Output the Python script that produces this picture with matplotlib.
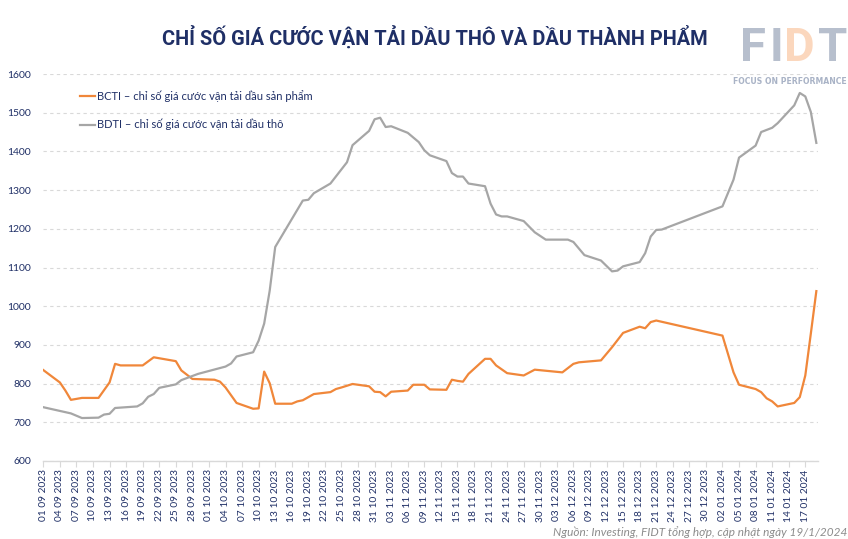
import matplotlib
matplotlib.use("Agg")
import matplotlib.pyplot as plt
import pandas as pd
import numpy as np

# ---- data ----
start_date = "2023-09-01"
end_date = "2024-01-19"

bcti_dates = ["2023-09-01", "2023-09-04", "2023-09-05", "2023-09-06", "2023-09-08", "2023-09-11",
              "2023-09-13", "2023-09-14", "2023-09-15", "2023-09-19", "2023-09-21", "2023-09-25",
              "2023-09-26", "2023-09-28", "2023-10-02", "2023-10-03", "2023-10-04", "2023-10-05",
              "2023-10-06", "2023-10-09", "2023-10-10", "2023-10-11", "2023-10-12", "2023-10-13",
              "2023-10-16", "2023-10-17", "2023-10-18", "2023-10-20", "2023-10-23", "2023-10-24",
              "2023-10-25", "2023-10-27", "2023-10-30", "2023-10-31", "2023-11-01", "2023-11-02",
              "2023-11-03", "2023-11-06", "2023-11-07", "2023-11-09", "2023-11-10", "2023-11-13",
              "2023-11-14", "2023-11-15", "2023-11-16", "2023-11-17", "2023-11-20", "2023-11-21",
              "2023-11-22", "2023-11-24", "2023-11-27", "2023-11-29", "2023-12-04", "2023-12-06",
              "2023-12-07", "2023-12-11", "2023-12-13", "2023-12-15", "2023-12-18", "2023-12-19",
              "2023-12-20", "2023-12-21", "2024-01-02", "2024-01-04", "2024-01-05", "2024-01-08",
              "2024-01-09", "2024-01-10", "2024-01-11", "2024-01-12", "2024-01-15", "2024-01-16",
              "2024-01-17", "2024-01-18", "2024-01-19"]
bcti_values = [835, 803, 782, 758, 763, 763,
               803, 851, 847, 847, 868, 858,
               834, 812, 810, 805, 790, 770,
               750, 735, 736, 831, 801, 748,
               748, 754, 757, 773, 778, 786,
               790, 799, 793, 779, 778, 767,
               779, 782, 797, 797, 785, 784,
               810, 807, 805, 825, 864, 864,
               847, 827, 821, 836, 829, 851,
               855, 860, 894, 931, 947, 943,
               959, 963, 924, 829, 797, 786,
               778, 762, 754, 741, 750, 765,
               821, 929, 1039]

bdti_dates = ["2023-09-01", "2023-09-06", "2023-09-08", "2023-09-11", "2023-09-12", "2023-09-13",
              "2023-09-14", "2023-09-18", "2023-09-19", "2023-09-20", "2023-09-21", "2023-09-22",
              "2023-09-25", "2023-09-26", "2023-09-29", "2023-10-04", "2023-10-05", "2023-10-06",
              "2023-10-09", "2023-10-10", "2023-10-11", "2023-10-12", "2023-10-13", "2023-10-18",
              "2023-10-19", "2023-10-20", "2023-10-23", "2023-10-26", "2023-10-27", "2023-10-30",
              "2023-10-31", "2023-11-01", "2023-11-02", "2023-11-03", "2023-11-06", "2023-11-08",
              "2023-11-09", "2023-11-10", "2023-11-13", "2023-11-14", "2023-11-15", "2023-11-16",
              "2023-11-17", "2023-11-20", "2023-11-21", "2023-11-22", "2023-11-23", "2023-11-24",
              "2023-11-27", "2023-11-29", "2023-12-01", "2023-12-05", "2023-12-06", "2023-12-08",
              "2023-12-11", "2023-12-13", "2023-12-14", "2023-12-15", "2023-12-18", "2023-12-19",
              "2023-12-20", "2023-12-21", "2023-12-22", "2024-01-02", "2024-01-04", "2024-01-05",
              "2024-01-08", "2024-01-09", "2024-01-11", "2024-01-12", "2024-01-15", "2024-01-16",
              "2024-01-17", "2024-01-18", "2024-01-19"]
bdti_values = [739, 723, 711, 712, 720, 722,
               737, 741, 749, 766, 773, 789,
               798, 809, 825, 844, 852, 870,
               881, 911, 955, 1040, 1153, 1273,
               1275, 1292, 1317, 1372, 1416, 1453,
               1483, 1487, 1463, 1465, 1448, 1424,
               1403, 1390, 1375, 1344, 1335, 1335,
               1317, 1310, 1265, 1237, 1232, 1232,
               1220, 1191, 1172, 1172, 1166, 1132,
               1118, 1090, 1092, 1103, 1114, 1137,
               1180, 1197, 1198, 1258, 1327, 1384,
               1415, 1450, 1461, 1473, 1519, 1551,
               1542, 1502, 1422]

series_labels = ["BCTI – chỉ số giá cước vận tải dầu sản phẩm",
                 "BDTI – chỉ số giá cước vận tải dầu thô"]
title_text = "CHỈ SỐ GIÁ CƯỚC VẬN TẢI DẦU THÔ VÀ DẦU THÀNH PHẨM"
source_text = "Nguồn: Investing, FIDT tổng hợp, cập nhật ngày 19/1/2024"
y_ticks = [600, 700, 800, 900, 1000, 1100, 1200, 1300, 1400, 1500, 1600]

# ---- helpers ----
t0 = pd.Timestamp(start_date)
def to_day(dates):
    return np.array([(pd.Timestamp(d) - t0).days for d in dates])

all_days = pd.date_range(start_date, end_date, freq="D")
tick_days = list(range(0, len(all_days), 3))
tick_labels = [all_days[i].strftime("%d %m %Y") for i in tick_days]

NAVY = "#1f2f66"
ORANGE = "#F0873A"
GRAY = "#A6A6A6"
LOGO_GRAY = "#b7bfcd"
LOGO_PEACH = "#fbd7bd"
NARROW = ["Liberation Sans Narrow", "Roboto"]

fig = plt.figure(figsize=(8.48, 5.39), dpi=100)
ax = fig.add_axes([43.3 / 848, 1 - 461 / 539, (818 - 43.3) / 848, (461 - 74) / 539])

ax.plot(to_day(bcti_dates), bcti_values, color=ORANGE, lw=1.6, label=series_labels[0],
        solid_joinstyle="round")
ax.plot(to_day(bdti_dates), bdti_values, color=GRAY, lw=1.6, label=series_labels[1],
        solid_joinstyle="round")

ax.set_xlim(0, len(all_days) - 0.7)
ax.set_ylim(600, 1600)
ax.set_yticks(y_ticks)
ax.set_xticks(tick_days)
ax.set_xticklabels(tick_labels, rotation=90)

for s in ["top", "right", "left"]:
    ax.spines[s].set_visible(False)
ax.spines["bottom"].set_color("#d9d9d9")
ax.spines["bottom"].set_linewidth(1.0)
ax.tick_params(axis="x", colors="#d9d9d9", length=4, width=0.8, labelcolor=NAVY,
               labelsize=7.3, pad=2)
ax.tick_params(axis="y", length=0, labelcolor=NAVY, labelsize=7.5, pad=9)
for lab in ax.get_xticklabels() + ax.get_yticklabels():
    lab.set_family("Lato")

ax.grid(axis="y", color="#d9d9d9", linestyle=(0, (3, 3)), linewidth=0.8)
ax.set_axisbelow(True)

leg = ax.legend(loc="upper left", bbox_to_anchor=(0.035, 0.985), frameon=False,
                handlelength=1.3, handletextpad=0.15, labelspacing=1.55,
                prop={"family": "Lato", "size": 8})
for t in leg.get_texts():
    t.set_color(NAVY)

fig.text(0.513, 1 - 37 / 539, title_text, ha="center", va="center", fontsize=14.4,
         fontweight="bold", color=NAVY, family=NARROW)

# logo
logo_y = 1 - 61 / 539
for letter, xpx, col in [("F", 740, LOGO_GRAY), ("I", 770, LOGO_GRAY),
                         ("D", 784, LOGO_PEACH), ("T", 818, LOGO_GRAY)]:
    fig.text(xpx / 848, logo_y, letter, ha="left", va="baseline", fontsize=34,
             fontweight="bold", color=col, family=NARROW)
fig.text(847 / 848, 1 - 81 / 539, "FOCUS ON PERFORMANCE", ha="right", va="center",
         fontsize=5.6, fontweight="bold", color="#a9b3c6", family="DejaVu Sans")

fig.text(847 / 848, 1 - 532 / 539, source_text, ha="right", va="center", fontsize=8.5,
         style="italic", color="#8c8c8c", family="Lato")

fig.savefig("out.png", dpi=100)
